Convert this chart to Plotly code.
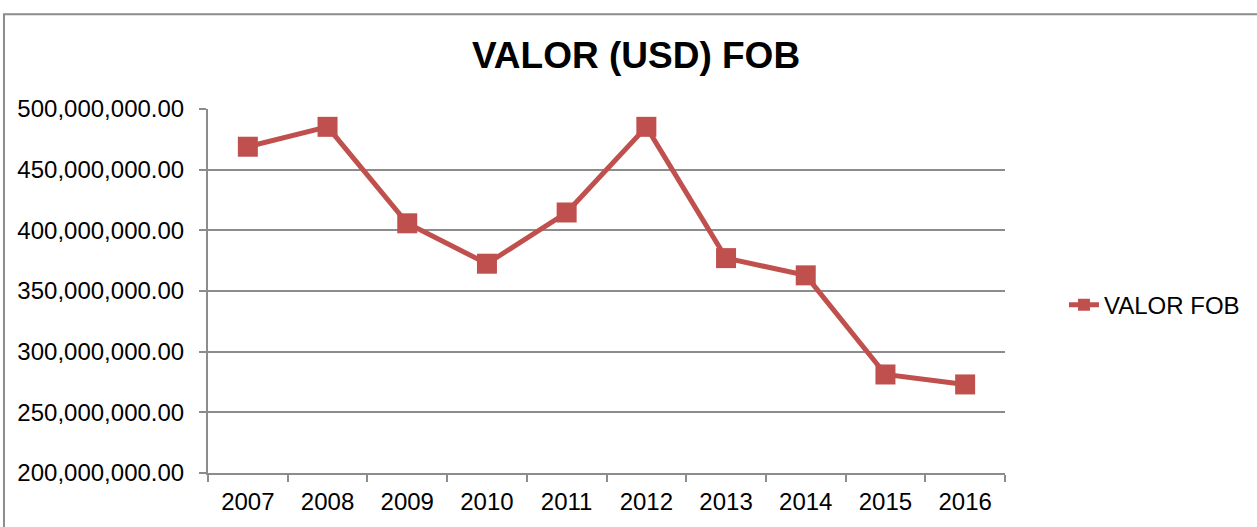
import plotly.graph_objects as go

# ── data ─────────────────────────────────────────────
years = ["2007", "2008", "2009", "2010", "2011", "2012", "2013", "2014", "2015", "2016"]
valor_fob = [468.9e6, 485.3e6, 405.8e6, 372.5e6, 414.7e6, 485.3e6, 377.1e6, 362.9e6, 281.2e6, 273.0e6]

RED = "#C0504D"
GRID = "#8C8C8C"
FONT = "Liberation Sans, Arial, sans-serif"

fig = go.Figure()
fig.add_trace(go.Scatter(
    x=years, y=valor_fob,
    name="VALOR FOB",
    mode="lines+markers",
    line=dict(color=RED, width=5),
    marker=dict(symbol="square", size=20, color=RED),
))

# marco exterior del gráfico
fig.add_shape(
    type="rect", xref="paper", yref="paper",
    x0=-0.256, x1=1.32, y0=-0.2, y1=1.26,
    line=dict(color=GRID, width=2), fillcolor="rgba(0,0,0,0)",
    layer="below",
)

fig.update_layout(
    width=1257, height=527,
    margin=dict(l=208, r=252, t=109, b=50),
    paper_bgcolor="white", plot_bgcolor="white",
    font=dict(family=FONT, size=24, color="black"),
    title=dict(
        text="<b>VALOR (USD) FOB</b>",
        font=dict(family=FONT, size=37, color="black"),
        x=0.506, xanchor="center", y=0.896, yanchor="middle",
    ),
    showlegend=True,
    legend=dict(
        x=1.074, y=0.461, xanchor="left", yanchor="middle",
        itemsizing="constant",
        font=dict(family=FONT, size=24, color="black"),
        bgcolor="rgba(0,0,0,0)",
    ),
    xaxis=dict(
        type="category",
        showgrid=False,
        showline=True, linecolor=GRID, linewidth=2,
        ticks="outside", tickson="boundaries", ticklen=7, tickwidth=2, tickcolor=GRID,
        tickfont=dict(family=FONT, size=24),
        ticklabelstandoff=6,
        range=[-0.5, 9.5],
        zeroline=False,
    ),
    yaxis=dict(
        range=[200e6, 500e6],
        dtick=50e6,
        tickformat=",.2f",
        showgrid=True, gridcolor=GRID, gridwidth=2,
        showline=True, linecolor=GRID, linewidth=2,
        ticks="outside", ticklen=7, tickwidth=2, tickcolor=GRID,
        tickfont=dict(family=FONT, size=24),
        ticklabelstandoff=10,
        zeroline=False,
    ),
)

# sin margen en el body para que el marco izquierdo quede dentro de la página
fig.write_html(
    "out.html",
    config={"displayModeBar": False},
    post_script="document.body.style.margin='0';",
)
